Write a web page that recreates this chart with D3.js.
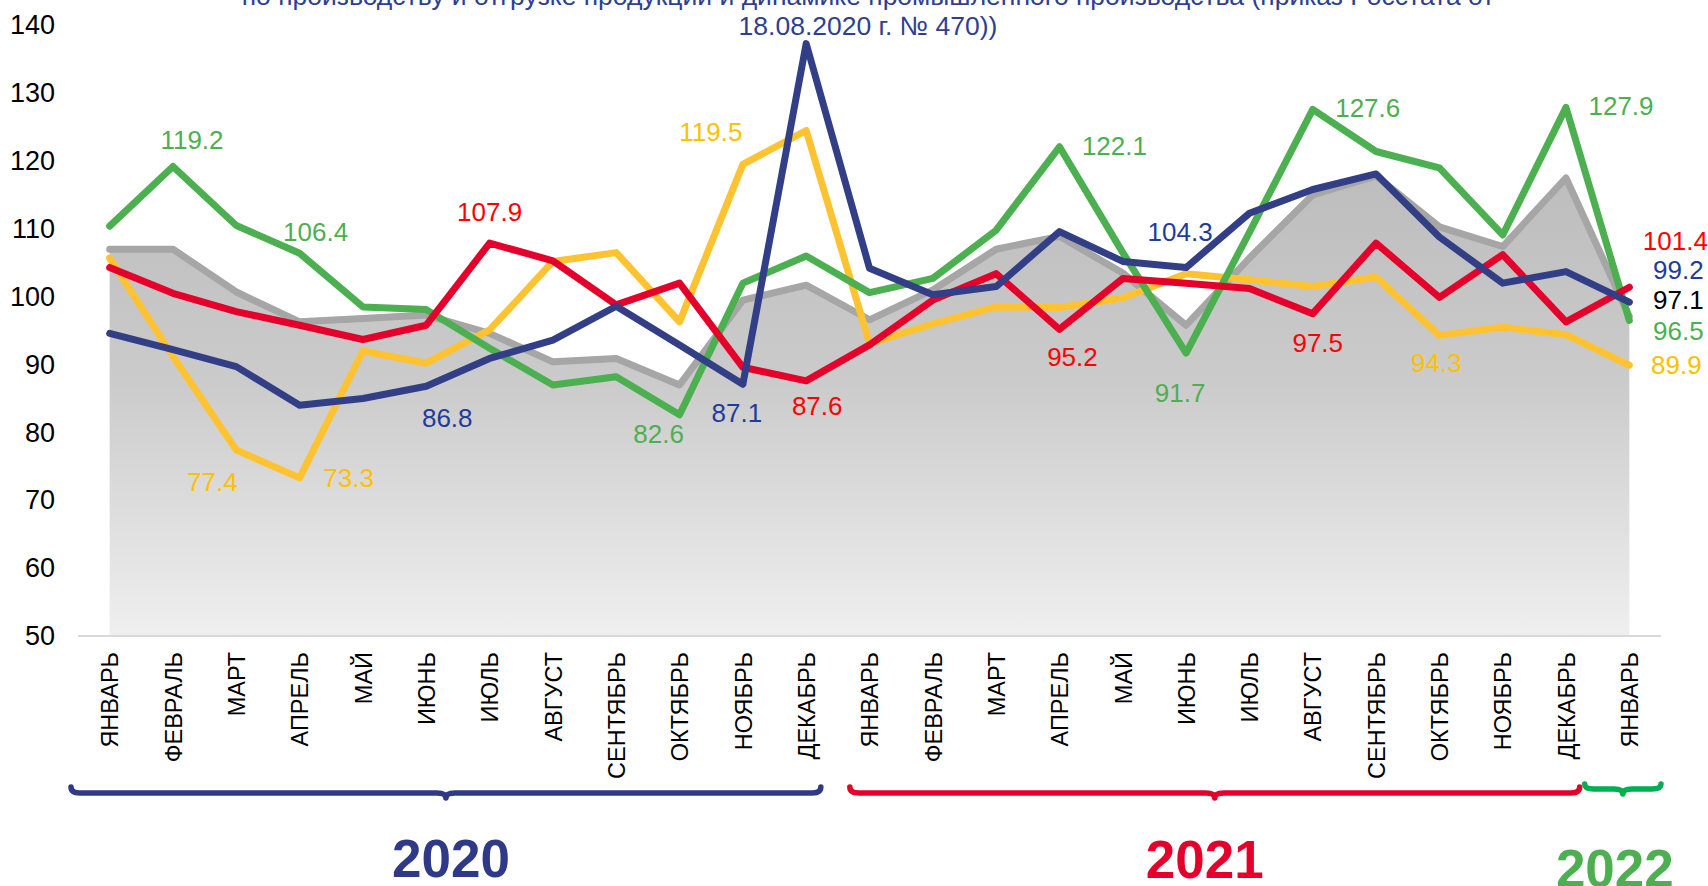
<!DOCTYPE html>
<html>
<head>
<meta charset="utf-8">
<script src="https://cdn.jsdelivr.net/npm/d3@7"></script>
<style>
  body { margin: 0; background: #fff; }
  text { font-family: Arial, "Liberation Sans", sans-serif; }
</style>
</head>
<body>
<script>
const months = ['ЯНВАРЬ','ФЕВРАЛЬ','МАРТ','АПРЕЛЬ','МАЙ','ИЮНЬ','ИЮЛЬ','АВГУСТ','СЕНТЯБРЬ','ОКТЯБРЬ','НОЯБРЬ','ДЕКАБРЬ',
                'ЯНВАРЬ','ФЕВРАЛЬ','МАРТ','АПРЕЛЬ','МАЙ','ИЮНЬ','ИЮЛЬ','АВГУСТ','СЕНТЯБРЬ','ОКТЯБРЬ','НОЯБРЬ','ДЕКАБРЬ',
                'ЯНВАРЬ']

const grayValues   = [107.0,107.0,100.7,96.3,96.8,97.3,94.6,90.4,90.9,87.0,99.5,101.7,
                      96.6,101.0,107.0,108.9,103.5,95.8,105.7,115.0,117.8,110.3,107.4,117.5,97.1]
const greenValues  = [110.4,119.2,110.5,106.4,98.5,98.1,92.4,87.0,88.2,82.6,102.0,106.0,
                      100.6,102.7,109.8,122.1,106.5,91.7,109.5,127.6,121.4,119.0,109.1,127.9,96.5]
const yellowValues = [105.7,91.2,77.4,73.3,92.0,90.2,95.1,105.2,106.5,96.3,119.5,124.5,
                      93.1,96.0,98.5,98.4,99.8,103.4,102.5,101.5,102.9,94.3,95.5,94.4,89.9]
const redValues    = [104.3,100.5,97.8,95.8,93.7,95.8,107.9,105.3,98.8,102.0,89.6,87.6,
                      92.9,99.5,103.4,95.2,102.7,102.0,101.2,97.5,107.9,99.9,106.2,96.3,101.4]
const blueValues   = [94.6,92.2,89.7,84.0,85.0,86.8,90.9,93.6,98.6,92.9,87.1,137.3,
                      104.2,100.3,101.5,109.6,105.2,104.3,112.3,115.8,118.1,108.8,102.0,103.7,99.2]

const yTicks = [50,60,70,80,90,100,110,120,130,140]

const years = [
  {label:'2020', first:0, last:11},
  {label:'2021', first:12, last:23},
  {label:'2022', first:24, last:24}
]

// which points get a value label: series key + month index
const labelled = [
  ['green',1],['green',3],['red',6],['blue',5],['yellow',2],['yellow',3],
  ['yellow',10],['green',9],['blue',10],['red',11],['green',15],['blue',17],
  ['red',15],['green',17],['green',19],['red',19],['yellow',21],['green',23],
  ['red',24],['blue',24],['gray',24],['green',24],['yellow',24]
]

const titleLines = [
  'по производству и отгрузке продукции и динамике промышленного производства (приказ Росстата от',
  '18.08.2020 г. № 470))'
]

// ---- layout ----
const W = 1708, H = 886
const labelOffsets = [
  [19,-17],[16,-12],[0,-22],[21,41],[-24,41],[49,9],
  [-32,-23],[-21,28],[-6,38],[11,34],[55,8],[-6,-27],
  [13,37],[-6,49],[55,8],[5,38],[-3,37],[55,8],
  [46,-37],[49,-23],[49,-7],[49,20],[47,9]
]
const braceTrim = [[-7,-17],[12,-18],[-13,0]]
const yearLabelPos = [[5,877],[-10,878],[-8,887]]

const series = {
  gray:   {values: grayValues,   line:'#a6a6a6', text:'#000000'},
  yellow: {values: yellowValues, line:'#ffc331', text:'#ffc000'},
  green:  {values: greenValues,  line:'#4caf50', text:'#4caf50'},
  red:    {values: redValues,    line:'#e4002b', text:'#ff0000'},
  blue:   {values: blueValues,   line:'#323f86', text:'#1f3b9b'}
}
const yearColors = [
  {brace:'#2e3a87', text:'#2e3a87'},
  {brace:'#e4002b', text:'#e4002b'},
  {brace:'#00b050', text:'#4caf50'}
]

const svg = d3.select('body').append('svg')
  .attr('width', W)
  .attr('height', H)

const x = d3.scalePoint()
  .domain(d3.range(months.length))
  .range([78, 1661])
  .padding(0.5)

const y = d3.scaleLinear()
  .domain([50, 140])
  .range([636, 25.3])

const step = x.step()

// gradient under the grey series
const grad = svg.append('defs').append('linearGradient')
  .attr('id', 'areaGrad')
  .attr('gradientUnits', 'userSpaceOnUse')
  .attr('x1', 0).attr('x2', 0)
  .attr('y1', y(118)).attr('y2', y(50))
grad.append('stop').attr('offset', 0).attr('stop-color', '#bdbdbd')
grad.append('stop').attr('offset', 0.45).attr('stop-color', '#cbcbcb')
grad.append('stop').attr('offset', 1).attr('stop-color', '#efefef')

// title (partly cut off at the top, as in the source)
svg.append('g').selectAll('text')
  .data(titleLines)
  .join('text')
  .attr('x', 868)
  .attr('y', (d, i) => 5 + i * 30)
  .attr('text-anchor', 'middle')
  .style('font-size', '26.5px')
  .style('fill', '#2f3f8f')
  .text(d => d)

// y axis
const yAxis = svg.append('g')
  .attr('transform', 'translate(59,0)')
  .call(d3.axisLeft(y).tickValues(yTicks).tickSize(0).tickPadding(4))
yAxis.select('.domain').remove()
yAxis.selectAll('text')
  .style('font-size', '27px')
  .style('font-family', 'Arial, "Liberation Sans", sans-serif')
  .style('fill', '#000')

// area + lines
const area = d3.area()
  .x((d, i) => x(i))
  .y0(y(50))
  .y1(d => y(d))

svg.append('path')
  .datum(grayValues)
  .attr('d', area)
  .attr('fill', 'url(#areaGrad)')

const line = d3.line()
  .x((d, i) => x(i))
  .y(d => y(d))

const lineOrder = ['gray','yellow','green','red','blue']
svg.append('g').selectAll('path')
  .data(lineOrder)
  .join('path')
  .attr('d', k => line(series[k].values))
  .attr('fill', 'none')
  .attr('stroke', k => series[k].line)
  .attr('stroke-width', 7)
  .attr('stroke-linejoin', 'round')
  .attr('stroke-linecap', 'round')

// baseline + x axis
svg.append('line')
  .attr('x1', 78).attr('x2', 1661)
  .attr('y1', y(50)).attr('y2', y(50))
  .attr('stroke', '#d9d9d9')
  .attr('stroke-width', 2)

const xAxis = svg.append('g')
  .attr('transform', `translate(0,${y(50)})`)
  .call(d3.axisBottom(x).tickSize(0).tickFormat(i => months[i]))
xAxis.select('.domain').remove()
xAxis.selectAll('text')
  .attr('transform', 'rotate(-90)')
  .attr('x', -16)
  .attr('y', 0)
  .attr('dy', '0.35em')
  .style('text-anchor', 'end')
  .style('font-size', '23.5px')
  .style('font-family', 'Arial, "Liberation Sans", sans-serif')
  .style('fill', '#000')

// value labels
svg.append('g').selectAll('text')
  .data(labelled)
  .join('text')
  .attr('x', (d, j) => x(d[1]) + labelOffsets[j][0])
  .attr('y', (d, j) => y(series[d[0]].values[d[1]]) + labelOffsets[j][1])
  .attr('text-anchor', 'middle')
  .style('font-size', '26px')
  .style('fill', d => series[d[0]].text)
  .text(d => series[d[0]].values[d[1]].toFixed(1))

// year braces
function bracePath(x0, x1, yTop, yMid, yTip) {
  const r = 9, xm = (x0 + x1) / 2
  return `M${x0},${yTop} Q${x0},${yMid} ${x0 + r},${yMid} L${xm - r},${yMid} ` +
         `Q${xm},${yMid} ${xm},${yTip} Q${xm},${yMid} ${xm + r},${yMid} ` +
         `L${x1 - r},${yMid} Q${x1},${yMid} ${x1},${yTop}`
}

years.forEach((yr, i) => {
  const x0 = x(yr.first) - step / 2 + braceTrim[i][0]
  const x1 = x(yr.last) + step / 2 + braceTrim[i][1]
  const small = yr.first === yr.last
  svg.append('path')
    .attr('d', small ? bracePath(x0, x1, 784, 789, 794) : bracePath(x0, x1, 787, 793, 798))
    .attr('fill', 'none')
    .attr('stroke', yearColors[i].brace)
    .attr('stroke-width', 5.5)
    .attr('stroke-linecap', 'round')
    .attr('stroke-linejoin', 'round')

  svg.append('text')
    .attr('x', (x0 + x1) / 2 + yearLabelPos[i][0])
    .attr('y', yearLabelPos[i][1])
    .attr('text-anchor', 'middle')
    .style('font-size', '53px')
    .style('font-weight', 'bold')
    .style('fill', yearColors[i].text)
    .text(yr.label)
})
</script>
</body>
</html>
